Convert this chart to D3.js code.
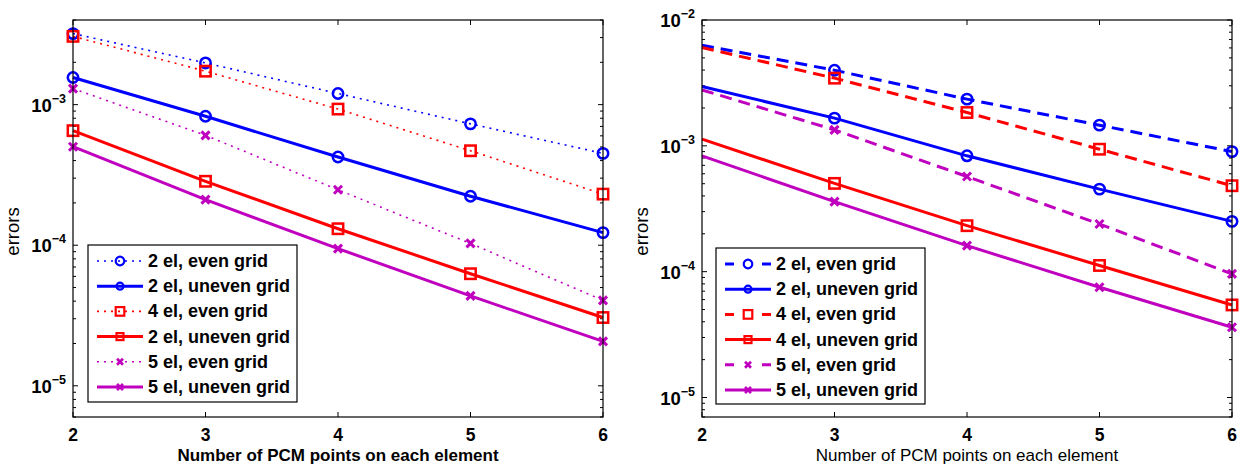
<!DOCTYPE html>
<html>
<head>
<meta charset="utf-8">
<script src="https://cdn.jsdelivr.net/npm/d3@7"></script>
<style>
  body { margin: 0; background: #fff; }
  svg text { font-family: "Liberation Sans", Arial, Helvetica, sans-serif; }
</style>
</head>
<body>
<svg id="drawing_region"></svg>
<script>
// number of PCM points (x axis)
const pcmPoints = [2, 3, 4, 5, 6];

// left panel
const left2elEven   = [3.2e-3, 1.98e-3, 1.2e-3, 7.3e-4, 4.5e-4];
const left2elUneven = [1.56e-3, 8.26e-4, 4.24e-4, 2.23e-4, 1.23e-4];
const left4elEven   = [3.06e-3, 1.73e-3, 9.3e-4, 4.7e-4, 2.31e-4];
const left2elUnevenRed = [6.53e-4, 2.85e-4, 1.31e-4, 6.27e-5, 3.06e-5];
const left5elEven   = [1.3e-3, 6.05e-4, 2.48e-4, 1.03e-4, 4.05e-5];
const left5elUneven = [5.02e-4, 2.11e-4, 9.46e-5, 4.36e-5, 2.07e-5];

// right panel
const right2elEven   = [6.3e-3, 3.99e-3, 2.35e-3, 1.46e-3, 9.0e-4];
const right2elUneven = [2.96e-3, 1.66e-3, 8.33e-4, 4.53e-4, 2.51e-4];
const right4elEven   = [6.04e-3, 3.45e-3, 1.84e-3, 9.4e-4, 4.82e-4];
const right4elUneven = [1.13e-3, 5.03e-4, 2.32e-4, 1.12e-4, 5.44e-5];
const right5elEven   = [2.78e-3, 1.34e-3, 5.7e-4, 2.39e-4, 9.6e-5];
const right5elUneven = [8.33e-4, 3.6e-4, 1.61e-4, 7.52e-5, 3.62e-5];

const leftLabels  = ['2 el, even grid', '2 el, uneven grid', '4 el, even grid', '2 el, uneven grid', '5 el, even grid', '5 el, uneven grid'];
const rightLabels = ['2 el, even grid', '2 el, uneven grid', '4 el, even grid', '4 el, uneven grid', '5 el, even grid', '5 el, uneven grid'];

const leftYTicks  = [1e-5, 1e-4, 1e-3];
const rightYTicks = [1e-5, 1e-4, 1e-3, 1e-2];

const BLUE = '#0000ff', RED = '#ff0000', MAG = '#bf00bf';

class LogErrorChart {
    constructor(config, series) {
        this.config = config;
        this.series = series;
        this.init();
    }

    init() {
        let self = this;
        const c = self.config;

        self.chart = d3.select('#drawing_region').append('g')
            .attr('transform', `translate(${c.left}, ${c.top})`);

        self.xscale = d3.scaleLinear().domain([2, 6]).range([0, c.width]);
        self.yscale = d3.scaleLog().domain(c.ydomain).range([c.height, 0]);

        self.render();
    }

    marker(g, shape, color, size, sw) {
        if (shape === 'o') {
            g.append('circle').attr('r', size).attr('fill', 'none')
                .attr('stroke', color).attr('stroke-width', sw);
        } else if (shape === 's') {
            g.append('rect').attr('x', -size).attr('y', -size)
                .attr('width', 2 * size).attr('height', 2 * size)
                .attr('fill', 'none').attr('stroke', color).attr('stroke-width', sw);
        } else {
            g.append('path').attr('d', `M${-size},${-size}L${size},${size}M${-size},${size}L${size},${-size}`)
                .attr('stroke', color).attr('stroke-width', sw + 0.5);
        }
    }

    render() {
        let self = this;
        const c = self.config;
        const w = c.width, h = c.height;

        // minor + major ticks on y (both sides)
        const [lo, hi] = self.yscale.domain();
        const minor = [];
        for (let e = Math.floor(Math.log10(lo)); e <= Math.ceil(Math.log10(hi)); e++) {
            for (let k = 2; k <= 9; k++) {
                const v = k * Math.pow(10, e);
                if (v >= lo && v <= hi) minor.push(v);
            }
        }
        const tickG = self.chart.append('g').attr('stroke', '#000').attr('stroke-width', 1);
        minor.forEach(v => {
            const y = self.yscale(v);
            tickG.append('line').attr('x1', 0).attr('x2', 3).attr('y1', y).attr('y2', y);
            tickG.append('line').attr('x1', w).attr('x2', w - 3).attr('y1', y).attr('y2', y);
        });
        c.yticks.forEach(v => {
            const y = self.yscale(v);
            tickG.append('line').attr('x1', 0).attr('x2', 5).attr('y1', y).attr('y2', y);
            tickG.append('line').attr('x1', w).attr('x2', w - 5).attr('y1', y).attr('y2', y);
        });
        pcmPoints.forEach(p => {
            const x = self.xscale(p);
            tickG.append('line').attr('x1', x).attr('x2', x).attr('y1', h).attr('y2', h - 5);
            tickG.append('line').attr('x1', x).attr('x2', x).attr('y1', 0).attr('y2', 5);
        });

        // tick labels
        pcmPoints.forEach(p => {
            self.chart.append('text')
                .attr('x', self.xscale(p)).attr('y', h + 24)
                .attr('text-anchor', 'middle')
                .attr('font-size', 17.5).attr('font-weight', 'bold')
                .text(p);
        });
        c.yticks.forEach(v => {
            const t = self.chart.append('text')
                .attr('x', -7).attr('y', self.yscale(v) + 7)
                .attr('text-anchor', 'end')
                .attr('font-size', 18.5).attr('font-weight', 'bold');
            t.append('tspan').text('10');
            t.append('tspan').attr('dy', -9).attr('font-size', 12.5)
                .text('\u2212' + Math.round(-Math.log10(v)));
        });

        // series lines + markers
        const line = d3.line()
            .x((d, i) => self.xscale(pcmPoints[i]))
            .y(d => self.yscale(d));

        self.series.forEach(s => {
            self.chart.append('path')
                .datum(s.values)
                .attr('d', line)
                .attr('fill', 'none')
                .attr('stroke', s.color)
                .attr('stroke-width', s.style === 'dot' ? 1.6 : 3)
                .attr('stroke-dasharray', s.style === 'dot' ? '2,5' : s.style === 'dash' ? '12,7' : null);
            s.values.forEach((v, i) => {
                if (i < c.markerFrom) return;
                const g = self.chart.append('g')
                    .attr('transform', `translate(${self.xscale(pcmPoints[i])}, ${self.yscale(v)})`);
                self.marker(g, s.shape, s.color, s.shape === 'x' ? 4 : 5.2, 2.5);
            });
        });

        // box
        self.chart.append('rect')
            .attr('width', w).attr('height', h)
            .attr('fill', 'none').attr('stroke', '#000').attr('stroke-width', 1.2);

        // legend
        const L = c.legend;
        const lg = self.chart.append('g').attr('transform', `translate(${L.x}, ${L.y})`);
        lg.append('rect').attr('width', L.w).attr('height', L.h)
            .attr('fill', '#fff').attr('stroke', '#000').attr('stroke-width', 1.2);
        self.series.forEach((s, i) => {
            const y = 16 + i * 25.2;
            lg.append('line')
                .attr('x1', 9).attr('x2', 55).attr('y1', y).attr('y2', y)
                .attr('stroke', s.color)
                .attr('stroke-width', s.style === 'dot' ? 1.6 : 3)
                .attr('stroke-dasharray', s.style === 'dot' ? '2,5' : s.style === 'dash' ? '9,28' : null);
            const g = lg.append('g').attr('transform', `translate(32, ${y})`);
            self.marker(g, s.shape, s.color, s.shape === 'x' ? 3 : (s.style === 'solid' ? 3.5 : 4.3), 2.2);
            lg.append('text')
                .attr('x', 60).attr('y', y + 6)
                .attr('font-size', 18).attr('font-weight', 'bold')
                .text(s.label);
        });

        // axis labels
        self.chart.append('text')
            .attr('transform', `translate(${c.ylabelX}, ${h / 2 + 13}) rotate(-90)`)
            .attr('text-anchor', 'middle')
            .attr('font-size', 18.5)
            .text('errors');
        self.chart.append('text')
            .attr('x', w / 2).attr('y', h + 44)
            .attr('text-anchor', 'middle')
            .attr('font-size', 17)
            .attr('font-weight', c.xlabelBold ? 'bold' : 'normal')
            .text('Number of PCM points on each element');
    }
}

d3.select('#drawing_region').attr('width', 1247).attr('height', 469);

new LogErrorChart({
    left: 73, top: 20, width: 530, height: 397,
    ydomain: [6e-6, 4e-3], yticks: leftYTicks,
    markerFrom: 0, xlabelBold: true, ylabelX: -54,
    legend: {x: 15, y: 225, w: 209, h: 157}
}, [
    {values: left2elEven, color: BLUE, style: 'dot', shape: 'o', label: leftLabels[0]},
    {values: left2elUneven, color: BLUE, style: 'solid', shape: 'o', label: leftLabels[1]},
    {values: left4elEven, color: RED, style: 'dot', shape: 's', label: leftLabels[2]},
    {values: left2elUnevenRed, color: RED, style: 'solid', shape: 's', label: leftLabels[3]},
    {values: left5elEven, color: MAG, style: 'dot', shape: 'x', label: leftLabels[4]},
    {values: left5elUneven, color: MAG, style: 'solid', shape: 'x', label: leftLabels[5]}
]);

new LogErrorChart({
    left: 702, top: 20, width: 530, height: 397,
    ydomain: [7e-6, 1e-2], yticks: rightYTicks,
    markerFrom: 1, xlabelBold: false, ylabelX: -54,
    legend: {x: 14, y: 228, w: 209, h: 156}
}, [
    {values: right2elEven, color: BLUE, style: 'dash', shape: 'o', label: rightLabels[0]},
    {values: right2elUneven, color: BLUE, style: 'solid', shape: 'o', label: rightLabels[1]},
    {values: right4elEven, color: RED, style: 'dash', shape: 's', label: rightLabels[2]},
    {values: right4elUneven, color: RED, style: 'solid', shape: 's', label: rightLabels[3]},
    {values: right5elEven, color: MAG, style: 'dash', shape: 'x', label: rightLabels[4]},
    {values: right5elUneven, color: MAG, style: 'solid', shape: 'x', label: rightLabels[5]}
]);
</script>
</body>
</html>
